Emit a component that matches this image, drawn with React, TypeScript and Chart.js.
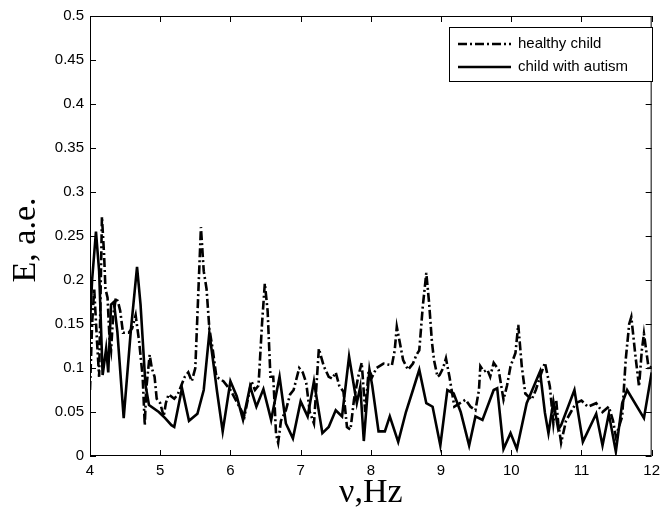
import React, { useEffect, useRef } from "react";
import { Chart, registerables } from "chart.js";

Chart.register(...registerables);

const xTickLabels = ["4", "5", "6", "7", "8", "9", "10", "11", "12"];
const yTickLabels = ["0", "0.05", "0.1", "0.15", "0.2", "0.25", "0.3", "0.35", "0.4", "0.45", "0.5"];

const seriesNames = ["healthy child", "child with autism"];
const xTitle = "ν,Hz";
const yTitle = "E, a.e.";

const healthyFreq = [
  4.0, 4.03, 4.06, 4.1, 4.13, 4.17, 4.2, 4.22, 4.25, 4.28, 4.3, 4.33, 4.37, 4.4, 4.43, 4.47, 4.5, 4.55, 4.6, 4.65,
  4.7, 4.75, 4.78, 4.8, 4.85, 4.88, 4.92, 4.95, 5.0, 5.05, 5.08, 5.12, 5.2, 5.25, 5.3, 5.35, 5.4, 5.45, 5.5, 5.55,
  5.58, 5.62, 5.66, 5.7, 5.75, 5.8, 5.9, 6.0, 6.1, 6.2, 6.3, 6.35, 6.4, 6.45, 6.49, 6.53, 6.57, 6.61, 6.65, 6.68,
  6.72, 6.79, 6.85, 6.9, 6.98, 7.03, 7.08, 7.13, 7.19, 7.26, 7.33, 7.4, 7.45, 7.5, 7.55, 7.61, 7.66, 7.71, 7.76, 7.82,
  7.87, 7.92, 7.97, 8.02, 8.08, 8.18, 8.3, 8.34, 8.37, 8.41, 8.46, 8.53, 8.6, 8.65, 8.69, 8.74, 8.79, 8.83, 8.87, 8.9,
  8.95, 8.98, 9.03, 9.07, 9.12, 9.19, 9.27, 9.35, 9.42, 9.49, 9.54, 9.56, 9.61, 9.66, 9.7, 9.75, 9.82, 9.89, 9.94, 9.99,
  10.06, 10.1, 10.15, 10.2, 10.29, 10.35, 10.41, 10.48, 10.55, 10.6, 10.64, 10.67, 10.71, 10.78, 10.85, 10.92, 11.0, 11.09, 11.21, 11.3,
  11.39, 11.45, 11.49, 11.58, 11.63, 11.68, 11.71, 11.77, 11.82, 11.86, 11.89, 11.96, 12.0,
];
const healthyE = [
  0.075, 0.15, 0.19, 0.13, 0.09, 0.272, 0.23, 0.19, 0.18, 0.13, 0.12, 0.16, 0.18, 0.175, 0.165, 0.14, 0.14, 0.14, 0.145, 0.16,
  0.13, 0.09, 0.035, 0.075, 0.115, 0.1, 0.09, 0.065, 0.06, 0.045, 0.06, 0.07, 0.065, 0.07, 0.08, 0.09, 0.095, 0.085, 0.1, 0.2,
  0.26, 0.21, 0.19, 0.145, 0.12, 0.09, 0.085, 0.075, 0.06, 0.045, 0.085, 0.075, 0.08, 0.15, 0.196, 0.165, 0.09, 0.09, 0.025, 0.015,
  0.04, 0.052, 0.07, 0.075, 0.1, 0.095, 0.083, 0.05, 0.037, 0.122, 0.102, 0.09, 0.088, 0.095, 0.08, 0.073, 0.033, 0.03, 0.064, 0.09,
  0.106, 0.05, 0.098, 0.09, 0.1, 0.105, 0.103, 0.12, 0.147, 0.13, 0.109, 0.098, 0.105, 0.115, 0.12, 0.17, 0.208, 0.174, 0.13, 0.109,
  0.09, 0.092, 0.1, 0.111, 0.09, 0.056, 0.06, 0.064, 0.056, 0.052, 0.075, 0.102, 0.096, 0.098, 0.09, 0.106, 0.098, 0.064, 0.08, 0.102,
  0.117, 0.149, 0.102, 0.071, 0.064, 0.075, 0.09, 0.106, 0.079, 0.037, 0.064, 0.037, 0.015, 0.04, 0.05, 0.06, 0.063, 0.056, 0.06, 0.05,
  0.056, 0.04, 0.022, 0.045, 0.109, 0.15, 0.158, 0.113, 0.079, 0.12, 0.139, 0.098, 0.102,
];

const autismFreq = [
  4.0, 4.03, 4.085, 4.13, 4.18, 4.23, 4.26, 4.3, 4.34, 4.39, 4.48, 4.58, 4.67, 4.72, 4.79, 4.84, 4.98, 5.07, 5.16, 5.2,
  5.31, 5.41, 5.53, 5.62, 5.7, 5.76, 5.81, 5.89, 6.0, 6.09, 6.18, 6.28, 6.37, 6.47, 6.58, 6.7, 6.79, 6.89, 7.0, 7.1,
  7.19, 7.31, 7.4, 7.5, 7.59, 7.69, 7.8, 7.85, 7.9, 7.98, 8.02, 8.11, 8.2, 8.27, 8.39, 8.5, 8.6, 8.69, 8.79, 8.88,
  8.99, 9.09, 9.18, 9.28, 9.4, 9.49, 9.59, 9.75, 9.8, 9.89, 9.99, 10.08, 10.22, 10.41, 10.48, 10.53, 10.6, 10.67, 10.71, 10.9,
  11.02, 11.21, 11.3, 11.39, 11.49, 11.58, 11.65, 11.89, 12.0,
];
const autismE = [
  0.15, 0.2, 0.255, 0.21, 0.092, 0.122, 0.095, 0.172, 0.175, 0.141, 0.043, 0.141, 0.215, 0.172, 0.081, 0.058, 0.05, 0.043, 0.035, 0.033,
  0.077, 0.04, 0.048, 0.075, 0.14, 0.104, 0.073, 0.028, 0.085, 0.068, 0.041, 0.079, 0.056, 0.076, 0.041, 0.09, 0.037, 0.02, 0.062, 0.045,
  0.085, 0.026, 0.033, 0.052, 0.045, 0.113, 0.06, 0.079, 0.017, 0.098, 0.08, 0.028, 0.028, 0.045, 0.016, 0.05, 0.075, 0.098, 0.06, 0.056,
  0.012, 0.075, 0.071, 0.05, 0.012, 0.045, 0.041, 0.075, 0.077, 0.008, 0.026, 0.008, 0.06, 0.096, 0.049, 0.026, 0.062, 0.03, 0.035, 0.075,
  0.016, 0.048, 0.012, 0.048, 0.005, 0.06, 0.075, 0.043, 0.095,
];

const DASH = [9, 3, 2, 3];

const framePlugin = {
  id: "frame",
  afterDraw(chart: any) {
    const { ctx, chartArea: a, scales } = chart;
    const xs = scales.x;
    const ys = scales.y;
    ctx.save();
    ctx.strokeStyle = "#000";
    ctx.lineWidth = 1;
    ctx.strokeRect(a.left + 0.5, a.top + 0.5, a.right - a.left - 1, a.bottom - a.top - 1);
    const tl = 6;
    ctx.beginPath();
    xs.ticks.forEach((t: any) => {
      const px = Math.round(xs.getPixelForValue(t.value)) + 0.5;
      ctx.moveTo(px, a.bottom);
      ctx.lineTo(px, a.bottom - tl);
      ctx.moveTo(px, a.top);
      ctx.lineTo(px, a.top + tl);
    });
    ys.ticks.forEach((t: any) => {
      const py = Math.round(ys.getPixelForValue(t.value)) + 0.5;
      ctx.moveTo(a.left, py);
      ctx.lineTo(a.left + tl, py);
      ctx.moveTo(a.right, py);
      ctx.lineTo(a.right - tl, py);
    });
    ctx.stroke();

    // legend
    const lx = 449, ly = 27, lw = 203, lh = 54;
    ctx.fillStyle = "#fff";
    ctx.fillRect(lx, ly, lw, lh);
    ctx.strokeRect(lx + 0.5, ly + 0.5, lw, lh);
    const rows = [44, 67];
    ctx.lineWidth = 2.6;
    rows.forEach((ry, i) => {
      ctx.setLineDash(i === 0 ? DASH : []);
      ctx.beginPath();
      ctx.moveTo(458, ry);
      ctx.lineTo(511, ry);
      ctx.stroke();
    });
    ctx.setLineDash([]);
    ctx.fillStyle = "#000";
    ctx.font = "15px 'Liberation Sans', Arial, sans-serif";
    ctx.textBaseline = "middle";
    ctx.textAlign = "left";
    rows.forEach((ry, i) => ctx.fillText(seriesNames[i], 518, ry));

    // axis titles
    ctx.font = "34px 'Liberation Serif', 'Times New Roman', serif";
    ctx.textAlign = "center";
    ctx.textBaseline = "middle";
    ctx.fillText(xTitle, (a.left + a.right) / 2, 493);
    ctx.save();
    ctx.translate(26, 240);
    ctx.rotate(-Math.PI / 2);
    ctx.fillText(yTitle, 0, 0);
    ctx.restore();
    ctx.restore();
  },
};

export default function App() {
  const ref = useRef<HTMLCanvasElement | null>(null);
  useEffect(() => {
    if (!ref.current) return;
    const tickFont = { family: "'Liberation Sans', Arial, sans-serif", size: 15 };
    const chart = new Chart(ref.current, {
      type: "line",
      data: {
        datasets: [
          {
            label: seriesNames[0],
            data: healthyFreq.map((f, i) => ({ x: f, y: healthyE[i] })),
            borderColor: "#000",
            borderWidth: 2.6,
            borderDash: DASH,
            pointRadius: 0,
            tension: 0,
            fill: false,
          },
          {
            label: seriesNames[1],
            data: autismFreq.map((f, i) => ({ x: f, y: autismE[i] })),
            borderColor: "#000",
            borderWidth: 2.6,
            pointRadius: 0,
            tension: 0,
            fill: false,
          },
        ],
      },
      options: {
        responsive: false,
        animation: false,
        layout: { padding: { left: 0, right: 8, top: 16, bottom: 0 } },
        plugins: { legend: { display: false }, tooltip: { enabled: false } },
        scales: {
          x: {
            type: "linear",
            min: 4,
            max: 12,
            ticks: {
              stepSize: 1,
              color: "#000",
              font: tickFont,
              padding: 6,
              maxRotation: 0,
              callback: (_v: any, i: number) => xTickLabels[i],
            },
            grid: { display: false, drawTicks: false },
            border: { display: false },
            afterFit: (s: any) => {
              s.height = 61;
            },
          },
          y: {
            type: "linear",
            min: 0,
            max: 0.5,
            ticks: {
              stepSize: 0.05,
              color: "#000",
              font: tickFont,
              padding: 6,
              callback: (_v: any, i: number) => yTickLabels[i],
            },
            grid: { display: false, drawTicks: false },
            border: { display: false },
            afterFit: (s: any) => {
              s.width = 90;
            },
          },
        },
      },
      plugins: [framePlugin],
    } as any);
    return () => chart.destroy();
  }, []);
  return (
    <div style={{ position: "fixed", left: 0, top: 0, width: 666, height: 517, background: "#fff" }}>
      <canvas ref={ref} width={666} height={517} style={{ width: 666, height: 517 }} />
    </div>
  );
}
